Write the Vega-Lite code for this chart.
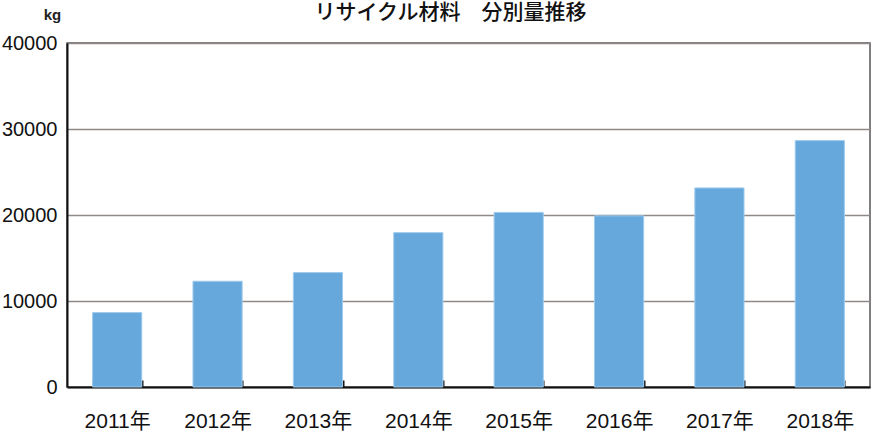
{
  "$schema": "https://vega.github.io/schema/vega-lite/v6.json",
  "autosize": "none",
  "width": 803,
  "height": 344,
  "padding": {"left": 67, "top": 43, "right": 2, "bottom": 45},
  "background": "white",
  "title": {
    "text": "リサイクル材料　分別量推移",
    "anchor": "middle",
    "dx": -18,
    "dy": 58,
    "offset": 21,
    "baseline": "bottom",
    "font": "Noto Sans CJK JP",
    "fontSize": 21,
    "fontWeight": 500,
    "color": "#111111"
  },
  "data": {
    "values": [
      {"year": "2011年", "kg": 8650},
      {"year": "2012年", "kg": 12300},
      {"year": "2013年", "kg": 13300},
      {"year": "2014年", "kg": 17950},
      {"year": "2015年", "kg": 20300},
      {"year": "2016年", "kg": 19900},
      {"year": "2017年", "kg": 23150},
      {"year": "2018年", "kg": 28650}
    ]
  },
  "mark": {"type": "bar", "color": "#66a8dc", "stroke": "#9fcbee", "strokeWidth": 1},
  "encoding": {
    "x": {
      "field": "year",
      "type": "nominal",
      "sort": null,
      "title": null,
      "scale": {"paddingInner": 0.51, "paddingOuter": 0.255},
      "axis": {
        "labelAngle": 0,
        "labelFont": "Liberation Sans, Noto Sans CJK JP",
        "labelFontSize": 21,
        "labelColor": "#111111",
        "labelPadding": 30,
        "tickBand": "extent",
        "tickSize": -7,
        "tickWidth": 2,
        "tickColor": "#111111",
        "domainColor": "#111111",
        "domainWidth": 2,
        "grid": false
      }
    },
    "y": {
      "field": "kg",
      "type": "quantitative",
      "scale": {"domain": [0, 40000], "nice": false},
      "title": "kg",
      "axis": {
        "values": [0, 10000, 20000, 30000, 40000],
        "format": "d",
        "titleAngle": 0,
        "titleX": -15,
        "titleY": -29,
        "titleAlign": "center",
        "titleBaseline": "middle",
        "titleFont": "Liberation Sans",
        "titleFontSize": 15,
        "titleFontWeight": "bold",
        "titleColor": "#222222",
        "labelFont": "Liberation Sans",
        "labelFontSize": 20,
        "labelColor": "#111111",
        "labelPadding": 10,
        "ticks": false,
        "domainColor": "#111111",
        "domainWidth": 2,
        "gridColor": "#8f8a88",
        "gridWidth": 1.5
      }
    }
  },
  "config": {
    "view": {"stroke": "#555555", "strokeWidth": 1.5}
  }
}
